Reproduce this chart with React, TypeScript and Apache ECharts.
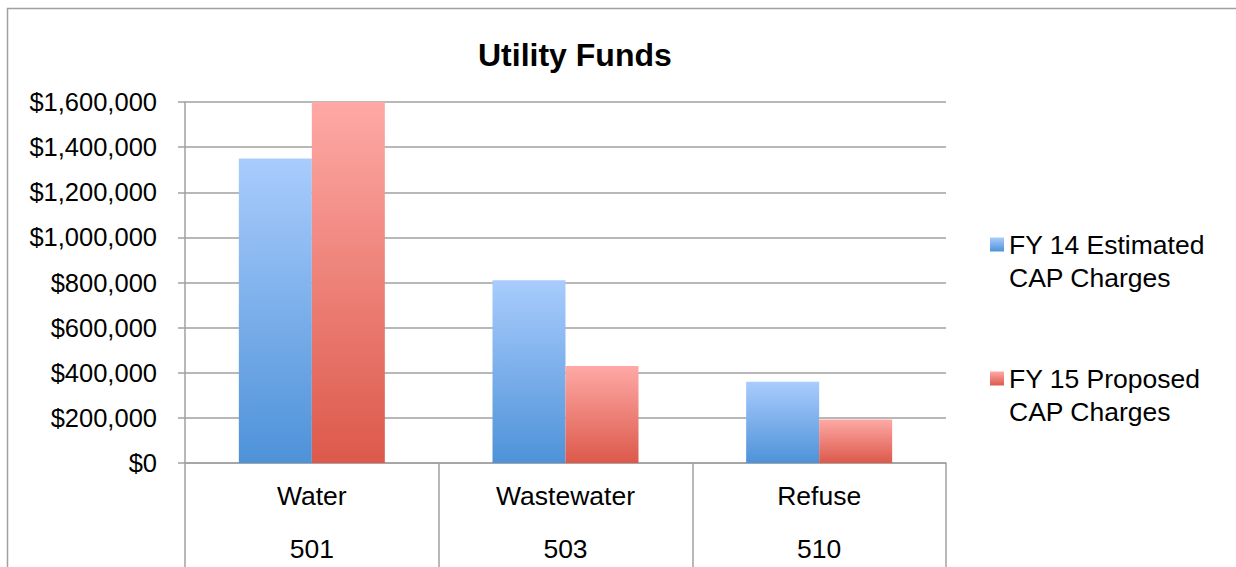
import React, { useEffect, useRef } from "react";
import * as echarts from "echarts";

const categories = ["Water", "Wastewater", "Refuse"];
const codes = ["501", "503", "510"];
const fy14Estimated = [1350000, 810000, 360000];
const fy15Proposed = [1600000, 430000, 193000];
const seriesNames = ["FY 14 Estimated\nCAP Charges", "FY 15 Proposed\nCAP Charges"];

const FONT = "'Liberation Sans', Arial, sans-serif";
const GRAY = "#a0a0a0";

function grad(top: string, bottom: string) {
  return new echarts.graphic.LinearGradient(0, 0, 0, 1, [
    { offset: 0, color: top },
    { offset: 1, color: bottom },
  ]);
}

function fmt(v: number) {
  return "$" + v.toLocaleString("en-US");
}

export default function App() {
  const ref = useRef<HTMLDivElement>(null);
  useEffect(() => {
    if (!ref.current) return;
    const chart = echarts.init(ref.current, null, { renderer: "svg" });
    chart.setOption({
      animation: false,
      backgroundColor: "#ffffff",
      textStyle: { fontFamily: FONT },
      title: {
        text: "Utility Funds",
        left: 473,
        top: 34,
        textStyle: { fontFamily: FONT, fontSize: 32, fontWeight: "bold", color: "#000" },
      },
      graphic: [
        {
          type: "rect",
          shape: { x: 7.5, y: 8.5, width: 1400, height: 800 },
          style: { fill: "none", stroke: GRAY, lineWidth: 1.5 },
          silent: true,
        },
      ],
      legend: {
        orient: "vertical",
        left: 985,
        top: 190,
        itemWidth: 14,
        itemHeight: 14,
        itemGap: 35,
        icon: "rect",
        formatter: (n: string) => "\n" + n,
        textStyle: {
          fontFamily: FONT,
          fontSize: 26.5,
          lineHeight: 33,
          color: "#000",
        },
        data: seriesNames,
      },
      grid: { left: 185, right: 290, top: 102, bottom: 104 },
      xAxis: [
        {
          type: "category",
          data: categories,
          position: "bottom",
          axisLine: { show: true, lineStyle: { color: GRAY, width: 1.5 } },
          axisTick: { show: true, length: 110, interval: 0, lineStyle: { color: GRAY, width: 1.5 } },
          axisLabel: { margin: 19, fontFamily: FONT, fontSize: 26.5, color: "#000" },
        },
        {
          type: "category",
          data: codes,
          position: "bottom",
          axisLine: { show: false },
          axisTick: { show: false },
          axisLabel: { margin: 72, fontFamily: FONT, fontSize: 26.5, color: "#000" },
        },
      ],
      yAxis: {
        type: "value",
        min: 0,
        max: 1600000,
        interval: 200000,
        axisLine: { show: true, lineStyle: { color: GRAY, width: 1.5 } },
        axisTick: { show: true, length: 7, lineStyle: { color: GRAY, width: 1.5 } },
        splitLine: { show: true, lineStyle: { color: GRAY, width: 1.5 } },
        axisLabel: { margin: 28, fontFamily: FONT, fontSize: 25.5, color: "#000", formatter: fmt },
      },
      series: [
        {
          name: seriesNames[0],
          type: "bar",
          data: fy14Estimated,
          barWidth: 73,
          barGap: "0%",
          itemStyle: { color: grad("#a9ccfd", "#4e92d8") },
        },
        {
          name: seriesNames[1],
          type: "bar",
          data: fy15Proposed,
          barWidth: 73,
          barGap: "0%",
          itemStyle: { color: grad("#fea9a5", "#dc594b") },
        },
      ],
    });
    return () => chart.dispose();
  }, []);
  return (
    <div
      ref={ref}
      style={{ position: "absolute", left: 0, top: 0, width: 1236, height: 567 }}
    />
  );
}
